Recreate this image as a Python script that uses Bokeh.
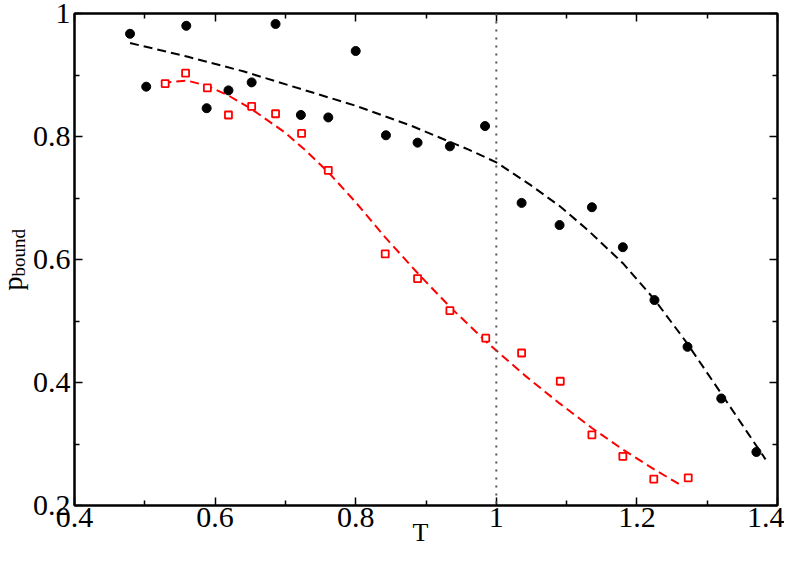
from bokeh.plotting import figure
from bokeh.models import (LinearAxis, Range1d, Span, FixedTicker, Title,
                          CustomJSTickFormatter)
from bokeh.embed import file_html
from bokeh.resources import INLINE

# --- data ---
black_T = [0.479, 0.502, 0.559, 0.588, 0.619, 0.652, 0.686, 0.722, 0.761, 0.800,
           0.843, 0.888, 0.934, 0.984, 1.036, 1.090, 1.136, 1.180, 1.225, 1.272,
           1.320, 1.370]
black_p = [0.967, 0.881, 0.980, 0.846, 0.875, 0.888, 0.983, 0.835, 0.831, 0.939,
           0.802, 0.790, 0.784, 0.817, 0.692, 0.656, 0.685, 0.620, 0.534, 0.458,
           0.374, 0.287]

red_T = [0.529, 0.558, 0.589, 0.619, 0.652, 0.686, 0.723, 0.761, 0.842, 0.888,
         0.934, 0.985, 1.036, 1.091, 1.136, 1.180, 1.224, 1.273]
red_p = [0.886, 0.903, 0.879, 0.835, 0.849, 0.837, 0.805, 0.745, 0.609, 0.569,
         0.517, 0.472, 0.448, 0.402, 0.315, 0.280, 0.243, 0.245]

black_fit_T = [0.479, 0.56, 0.64, 0.72, 0.80, 0.88, 0.96, 1.0, 1.05, 1.09,
               1.13, 1.18, 1.225, 1.27, 1.32, 1.383]
black_fit_p = [0.952, 0.930, 0.906, 0.878, 0.850, 0.817, 0.779, 0.758, 0.720,
               0.687, 0.648, 0.594, 0.535, 0.466, 0.382, 0.275]

red_fit_T = [0.525, 0.56, 0.59, 0.62, 0.65, 0.70, 0.73, 0.761, 0.80, 0.842,
             0.888, 0.934, 0.985, 1.04, 1.09, 1.136, 1.18, 1.224, 1.266]
red_fit_p = [0.887, 0.891, 0.882, 0.866, 0.846, 0.806, 0.776, 0.742, 0.693,
             0.636, 0.578, 0.523, 0.467, 0.412, 0.366, 0.326, 0.291, 0.259,
             0.231]

x_ticks = [0.4, 0.6, 0.8, 1.0, 1.2, 1.4]
y_ticks = [0.2, 0.4, 0.6, 0.8, 1.0]
x_minor = [0.5, 0.7, 0.9, 1.1, 1.3]
y_minor = [0.3, 0.5, 0.7, 0.9]
T_crit = 1.0

FONT = "Liberation Serif"

p = figure(width=784, height=547, output_backend="svg", toolbar_location=None,
           x_range=Range1d(0.4, 1.4), y_range=Range1d(0.2, 1.0),
           x_axis_location=None, y_axis_location=None,
           min_border_left=74, min_border_right=7, min_border_top=13,
           min_border_bottom=42)
p.grid.visible = False
p.outline_line_color = "black"
p.outline_line_width = 2
p.background_fill_color = "white"
p.border_fill_color = "white"

fmt = CustomJSTickFormatter(code="var s = tick.toFixed(1); return s.replace(/\\.0$/, '');")
blank = CustomJSTickFormatter(code="return '';")

def make_axis(ticks, minor, show_labels, standoff=2):
    ax = LinearAxis(ticker=FixedTicker(ticks=ticks, minor_ticks=minor),
                    formatter=fmt if show_labels else blank)
    ax.axis_line_color = "black"
    ax.axis_line_width = 2
    ax.major_tick_in = 8
    ax.major_tick_out = 0
    ax.minor_tick_in = 5
    ax.minor_tick_out = 0
    ax.major_tick_line_width = 1.5
    ax.minor_tick_line_width = 1.5
    ax.major_tick_line_color = "black"
    ax.minor_tick_line_color = "black"
    ax.major_label_text_font = FONT
    ax.major_label_text_font_size = "30px"
    ax.major_label_text_color = "black"
    ax.major_label_standoff = standoff if show_labels else 0
    return ax

p.add_layout(make_axis(x_ticks, x_minor, True, standoff=2), "below")
p.add_layout(make_axis(y_ticks, y_minor, True, standoff=4), "left")
p.add_layout(make_axis(x_ticks, x_minor, False), "above")
p.add_layout(make_axis(y_ticks, y_minor, False), "right")

# axis titles as side-panel text
p.add_layout(Title(text="T", align="left", offset=338, vertical_align="middle",
                   standoff=-26, text_font=FONT, text_font_size="26px",
                   text_font_style="normal", text_color="black"), "below")
p.add_layout(Title(text="bound", align="left", offset=229,
                   vertical_align="bottom", standoff=2, text_font=FONT,
                   text_font_size="19px", text_font_style="normal",
                   text_color="black"), "left")
p.add_layout(Title(text="p", align="left", offset=215,
                   vertical_align="bottom", standoff=-46, text_font=FONT,
                   text_font_size="28px", text_font_style="normal",
                   text_color="black"), "left")

# vertical dotted line at T = 1
p.add_layout(Span(location=T_crit, dimension="height", line_color="#555555",
                  line_width=2, line_dash="2 6"))

# fitted curves
p.line(black_fit_T, black_fit_p, line_color="black", line_width=2,
       line_dash="9 5")
p.line(red_fit_T, red_fit_p, line_color="#ff0000", line_width=2,
       line_dash="9 5")

# data points
p.scatter(black_T, black_p, marker="circle", size=9, fill_color="black",
          line_color="black")
p.scatter(red_T, red_p, marker="square", size=7, fill_color="white",
          line_color="#ff0000", line_width=1.8)

open("out.html", "w").write(file_html(p, INLINE))
